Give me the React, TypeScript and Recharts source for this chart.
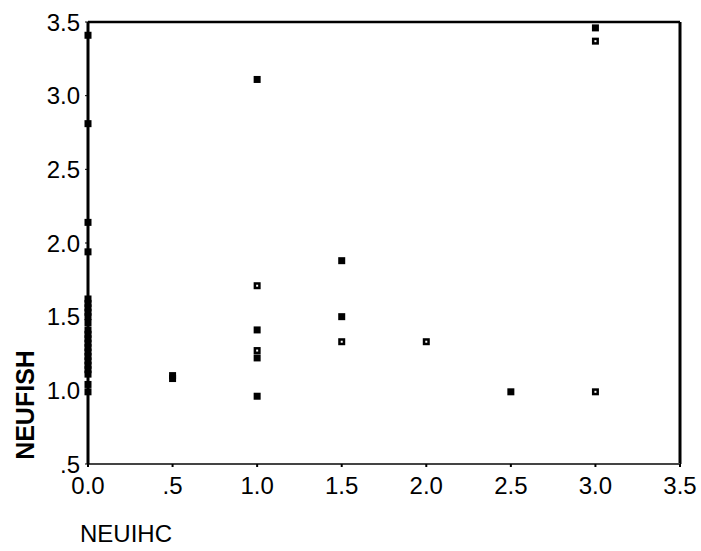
import { ScatterChart, Scatter, XAxis, YAxis, ReferenceLine, Label } from "recharts";

// NEUIHC / NEUFISH pairs
const filledX = [0, 0, 0, 0, 0, 0, 0, 0, 0, 0, 0, 0, 0, 0, 0, 0, 0, 0, 0, 0, 0, 0, 0, 0.5, 0.5, 1, 1, 1, 1, 1.5, 1.5, 2.5, 3];
const filledY = [3.41, 2.81, 2.14, 1.94, 1.62, 1.59, 1.56, 1.53, 1.5, 1.46, 1.41, 1.38, 1.35, 1.32, 1.29, 1.26, 1.23, 1.2, 1.17, 1.14, 1.11, 1.04, 0.99, 1.1, 1.08, 3.11, 1.41, 1.22, 0.96, 1.88, 1.5, 0.99, 3.46];
const hollowX = [1, 1, 1.5, 2, 3, 3];
const hollowY = [1.71, 1.27, 1.33, 1.33, 0.99, 3.37];
const ticks = [0.5, 1, 1.5, 2, 2.5, 3, 3.5];
const xTicks = [0, 0.5, 1, 1.5, 2, 2.5, 3, 3.5];

const filled = filledX.map((x, i) => ({ x, y: filledY[i] }));
const hollow = hollowX.map((x, i) => ({ x, y: hollowY[i] }));

const fmt = (v: number) => (v === 0.5 ? ".5" : v.toFixed(1));
const font = "'Liberation Sans', Arial, sans-serif";
const tickStyle = { fontSize: 24, fill: "#000", fontFamily: font };

const Box = (props: any) => {
  const { cx, cy } = props;
  return <rect x={cx - 3.5} y={cy - 3.5} width={7} height={7} fill="#000" />;
};
const HollowBox = (props: any) => {
  const { cx, cy } = props;
  return (
    <g>
      <rect x={cx - 3.5} y={cy - 3.5} width={7} height={7} fill="#000" />
      <rect x={cx - 1} y={cy - 1} width={2} height={2} fill="#fff" />
    </g>
  );
};

export default function App() {
  return (
    <div style={{ position: "absolute", left: 0, top: 0, background: "#fff" }}>
      <ScatterChart width={701} height={551} margin={{ top: 22, right: 21, bottom: 57, left: 0 }}>
        <XAxis
          type="number"
          dataKey="x"
          domain={[0, 3.5]}
          ticks={xTicks}
          tickFormatter={fmt}
          height={30}
          tick={tickStyle}
          tickSize={3}
          tickMargin={10}
          axisLine={{ stroke: "#444", strokeWidth: 2 }}
          tickLine={{ stroke: "#000", strokeWidth: 2 }}
        >
          <Label
            content={() => (
              <text x={80} y={542} fontSize={24} fontFamily={font} fill="#000">
                NEUIHC
              </text>
            )}
          />
        </XAxis>
        <YAxis
          type="number"
          dataKey="y"
          domain={[0.5, 3.5]}
          ticks={ticks}
          tickFormatter={fmt}
          width={88}
          tick={tickStyle}
          tickSize={3}
          tickMargin={5}
          axisLine={{ stroke: "#000", strokeWidth: 3 }}
          tickLine={{ stroke: "#000", strokeWidth: 1 }}
        >
          <Label
            content={() => (
              <text
                x={34}
                y={405}
                transform="rotate(-90 34 405)"
                textAnchor="middle"
                fontSize={25}
                fontWeight="bold"
                fontFamily={font}
                fill="#000"
              >
                NEUFISH
              </text>
            )}
          />
        </YAxis>
        <ReferenceLine x={3.5} stroke="#000" strokeWidth={3} />
        <ReferenceLine y={3.5} stroke="#000" strokeWidth={2.5} />
        <Scatter data={filled} shape={<Box />} isAnimationActive={false} />
        <Scatter data={hollow} shape={<HollowBox />} isAnimationActive={false} />
      </ScatterChart>
    </div>
  );
}
